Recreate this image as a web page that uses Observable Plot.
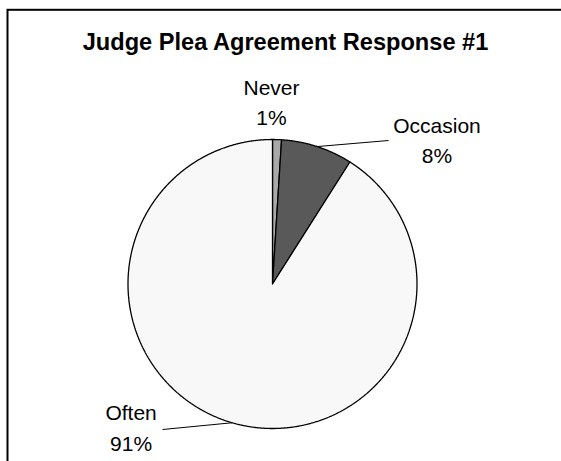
<!DOCTYPE html>
<html>
<head>
<meta charset="utf-8">
<script src="https://cdn.jsdelivr.net/npm/d3@7"></script>
<script src="https://cdn.jsdelivr.net/npm/@observablehq/plot@0.6"></script>
<style>
  html, body { margin: 0; padding: 0; background: #fff; }
  #chart svg { display: block; }
</style>
</head>
<body>
<div id="chart"></div>
<script>
// ---- data ----
const title = "Judge Plea Agreement Response #1";
const categories = ["Never", "Occasion", "Often"];
const percents = [1, 8, 91];
const percentLabels = ["1%", "8%", "91%"];

// ---- styling / layout (not data) ----
const sliceColors = ["#a9a9a9", "#595959", "#f8f8f8"];
const W = 561, H = 461;
const CX = 272, CY = 283.5, R = 144.5;   // pie centre & radius in pixels
// label anchor (centre x, baseline of last line) in pixels
const labelPos = {
  Never:    {x: 271,   y: 124.5},
  Occasion: {x: 436.5, y: 162.5},
  Often:    {x: 130.6, y: 450}
};
// leader-line end points (pixels); null = no leader
const leaderEnd = {Never: null, Occasion: {x: 388, y: 140}, Often: {x: 162, y: 429}};

const toX = px => px - CX;          // data x: pixels right of centre
const toY = py => CY - py;          // data y: pixels above centre

// ---- build slices ----
const arcs = d3.pie().sort(null).value(d => d)(percents);
const slicePts = [];
const leaders = [];
arcs.forEach((a, i) => {
  const name = categories[i];
  slicePts.push({name, x: 0, y: 0});
  const n = Math.max(2, Math.ceil((a.endAngle - a.startAngle) / 0.005));
  for (let k = 0; k <= n; k++) {
    const t = a.startAngle + (a.endAngle - a.startAngle) * k / n;
    slicePts.push({name, x: R * Math.sin(t), y: R * Math.cos(t)});
  }
  slicePts.push({name, x: 0, y: 0});
  const e = leaderEnd[name];
  if (e) {
    const m = (a.startAngle + a.endAngle) / 2;
    leaders.push({x1: R * Math.sin(m), y1: R * Math.cos(m), x2: toX(e.x), y2: toY(e.y)});
  }
});
const labels = categories.map((c, i) => ({
  text: c + "\n" + percentLabels[i],
  x: toX(labelPos[c].x),
  y: toY(labelPos[c].y)
}));

const chart = Plot.plot({
  width: W,
  height: H,
  margin: 0,
  style: {background: "#fff", fontFamily: "'Liberation Sans', Arial, sans-serif"},
  x: {domain: [-CX, W - CX], range: [0, W], axis: null},
  y: {domain: [CY - H, CY], range: [H, 0], axis: null},
  color: {domain: categories, range: sliceColors},
  marks: [
    Plot.frame({stroke: "#000", strokeWidth: 2, insetLeft: 7, insetTop: 9.3, insetRight: -6, insetBottom: -6}),
    Plot.line(slicePts, {x: "x", y: "y", z: "name", fill: "name", stroke: "#000", strokeWidth: 1.3, strokeLinejoin: "miter"}),
    Plot.link(leaders, {x1: "x1", y1: "y1", x2: "x2", y2: "y2", stroke: "#000", strokeWidth: 1}),
    Plot.text(labels, {x: "x", y: "y", text: "text", fontSize: 21, lineHeight: 1.43, lineAnchor: "bottom", textAnchor: "middle", fill: "#000"}),
    Plot.text([title], {x: toX(285), y: toY(49.5), text: d => d, fontSize: 23.6, fontWeight: "bold", lineAnchor: "bottom", textAnchor: "middle", fill: "#000"})
  ]
});
document.getElementById("chart").appendChild(chart);
</script>
</body>
</html>
